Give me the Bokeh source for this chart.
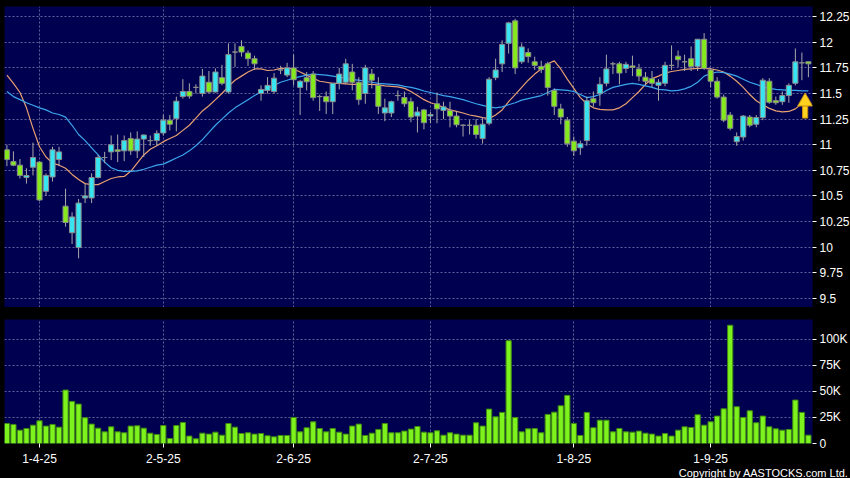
from bokeh.plotting import figure
from bokeh.models import (ColumnDataSource, Range1d, FixedTicker, Title)
from bokeh.layouts import column
from bokeh.embed import file_html
from bokeh.resources import INLINE

# ---------------- data ----------------
opens = [10.95, 10.835, 10.80, 10.68, 10.78, 10.83, 10.545, 10.685, 10.855, 10.40,
         10.14, 9.995, 10.48, 10.48, 10.68, 10.875, 10.93, 10.95, 10.94, 11.06,
         10.94, 11.055, 11.04, 11.04, 11.115, 11.24, 11.255, 11.47, 11.52, 11.56,
         11.50, 11.61, 11.515, 11.655, 11.515, 11.905, 11.96, 11.895, 11.84, 11.50,
         11.53, 11.52, 11.73, 11.68, 11.75, 11.56, 11.655, 11.69, 11.47, 11.47,
         11.42, 11.60, 11.61, 11.71, 11.61, 11.50, 11.69, 11.58, 11.31, 11.31,
         11.48, 11.46, 11.42, 11.28, 11.34, 11.28, 11.40, 11.335, 11.335, 11.28,
         11.19, 11.19, 11.19, 11.06, 11.21, 11.655, 11.79, 11.99, 12.21, 11.81,
         11.90, 11.81, 11.765, 11.79, 11.53, 11.35, 11.24, 11.035, 10.97, 11.04,
         11.45, 11.50, 11.60, 11.79, 11.79, 11.745, 11.77, 11.74, 11.66, 11.645,
         11.58, 11.60, 11.775, 11.865, 11.81, 11.84, 11.765, 12.03, 11.73, 11.62,
         11.465, 11.29, 11.03, 11.075, 11.27, 11.20, 11.265, 11.62, 11.43, 11.42,
         11.48, 11.60, 11.80, 11.81]
highs = [11.00, 10.935, 10.86, 10.77, 11.02, 10.84, 10.72, 10.98, 10.98, 10.57,
         10.34, 10.47, 10.62, 10.72, 10.90, 10.93, 11.09, 11.10, 11.09, 11.12,
         11.13, 11.10, 11.09, 11.14, 11.29, 11.29, 11.47, 11.64, 11.60, 11.59,
         11.74, 11.72, 11.745, 11.78, 11.99, 11.99, 12.02, 11.92, 11.87, 11.58,
         11.66, 11.70, 11.77, 11.80, 11.88, 11.63, 11.71, 11.72, 11.49, 11.52,
         11.60, 11.75, 11.84, 11.79, 11.66, 11.78, 11.74, 11.66, 11.45, 11.43,
         11.53, 11.52, 11.46, 11.37, 11.35, 11.32, 11.51, 11.42, 11.42, 11.33,
         11.20, 11.24, 11.25, 11.27, 11.66, 11.84, 12.02, 12.20, 12.23, 11.99,
         11.94, 11.86, 11.82, 11.81, 11.55, 11.40, 11.27, 11.08, 11.04, 11.47,
         11.52, 11.66, 11.88, 11.81, 11.81, 11.81, 11.87, 11.79, 11.71, 11.72,
         11.64, 11.81, 11.97, 11.92, 11.88, 11.96, 12.03, 12.09, 11.75, 11.66,
         11.49, 11.32, 11.12, 11.29, 11.29, 11.29, 11.65, 11.65, 11.47, 11.52,
         11.60, 11.94, 11.90, 11.81]
lows = [10.79, 10.79, 10.67, 10.62, 10.70, 10.45, 10.50, 10.64, 10.79, 10.20,
        10.03, 9.89, 10.43, 10.43, 10.67, 10.82, 10.85, 10.83, 10.84, 10.90,
        10.87, 10.88, 10.99, 10.99, 11.09, 11.14, 11.13, 11.45, 11.45, 11.50,
        11.47, 11.50, 11.51, 11.58, 11.50, 11.76, 11.86, 11.77, 11.73, 11.43,
        11.50, 11.50, 11.69, 11.66, 11.58, 11.29, 11.53, 11.43, 11.33, 11.30,
        11.30, 11.54, 11.59, 11.53, 11.39, 11.40, 11.55, 11.30, 11.23, 11.27,
        11.43, 11.37, 11.22, 11.12, 11.15, 11.21, 11.21, 11.25, 11.17, 11.17,
        11.08, 11.10, 11.06, 11.01, 11.19, 11.63, 11.71, 11.89, 11.69, 11.79,
        11.80, 11.73, 11.70, 11.48, 11.29, 11.20, 10.98, 10.89, 10.90, 10.99,
        11.37, 11.38, 11.57, 11.69, 11.59, 11.70, 11.67, 11.62, 11.58, 11.56,
        11.43, 11.57, 11.73, 11.76, 11.72, 11.72, 11.72, 11.73, 11.56, 11.45,
        11.22, 11.14, 10.99, 11.04, 11.17, 11.17, 11.24, 11.40, 11.39, 11.39,
        11.41, 11.58, 11.63, 11.66]
closes = [10.855, 10.80, 10.70, 10.70, 10.875, 10.46, 10.70, 10.95, 10.93, 10.24,
          10.295, 10.43, 10.50, 10.68, 10.875, 10.875, 11.00, 10.935, 11.04, 10.94,
          11.055, 11.095, 11.04, 11.11, 11.24, 11.20, 11.425, 11.52, 11.475, 11.56,
          11.67, 11.515, 11.71, 11.60, 11.88, 11.905, 11.905, 11.84, 11.79, 11.54,
          11.58, 11.65, 11.73, 11.75, 11.635, 11.62, 11.615, 11.46, 11.47, 11.42,
          11.60, 11.69, 11.79, 11.61, 11.44, 11.75, 11.63, 11.375, 11.36, 11.42,
          11.48, 11.40, 11.27, 11.32, 11.215, 11.295, 11.35, 11.37, 11.28, 11.195,
          11.19, 11.19, 11.10, 11.20, 11.64, 11.73, 11.98, 12.19, 11.75, 11.955,
          11.86, 11.775, 11.735, 11.56, 11.375, 11.27, 11.01, 10.94, 11.01, 11.43,
          11.41, 11.59, 11.74, 11.79, 11.70, 11.785, 11.755, 11.67, 11.62, 11.60,
          11.61, 11.775, 11.775, 11.83, 11.81, 11.765, 12.03, 11.745, 11.62, 11.465,
          11.24, 11.16, 11.08, 11.28, 11.19, 11.265, 11.63, 11.415, 11.41, 11.48,
          11.58, 11.81, 11.80, 11.79]
volumes_k = [19.2, 18.3, 12.8, 14.4, 17.6, 21.8, 16.7, 18.3, 15.7, 51.3,
             40.4, 37.8, 24.7, 18.6, 14.7, 11.2, 16.0, 11.2, 10.3, 16.7,
             17.0, 14.7, 9.9, 8.7, 17.3, 4.8, 17.3, 20.2, 7.1, 4.5,
             9.9, 9.0, 10.9, 8.0, 19.2, 15.7, 9.6, 10.3, 9.0, 9.6,
             7.4, 6.4, 7.7, 7.7, 25.0, 11.2, 15.1, 20.8, 14.4, 11.2,
             14.4, 10.9, 9.0, 16.7, 18.6, 7.7, 9.9, 13.5, 19.2, 10.3,
             10.3, 11.9, 13.8, 16.3, 10.9, 10.3, 12.2, 8.0, 10.3, 9.0,
             8.0, 8.0, 19.9, 16.7, 33.0, 25.6, 29.8, 98.7, 25.0, 11.2,
             14.1, 14.4, 10.3, 27.9, 30.1, 36.2, 46.2, 19.2, 7.7, 29.8,
             15.1, 22.4, 22.4, 11.2, 14.4, 11.2, 10.9, 11.9, 9.9, 9.0,
             7.1, 9.6, 7.1, 12.8, 16.0, 15.4, 27.6, 17.6, 20.8, 26.3,
             33.3, 113.5, 35.3, 25.0, 31.4, 19.9, 26.3, 16.0, 14.1, 12.8,
             13.5, 41.7, 29.8, 8.0]
ma_short = [11.68, 11.60, 11.51, 11.36, 11.16, 10.98, 10.88, 10.82, 10.80, 10.77,
            10.71, 10.66, 10.62, 10.61, 10.61, 10.64, 10.67, 10.685, 10.69, 10.74,
            10.82, 10.90, 10.955, 10.99, 11.03, 11.06, 11.09, 11.14, 11.19, 11.26,
            11.33, 11.38, 11.44, 11.50, 11.57, 11.63, 11.67, 11.71, 11.74, 11.74,
            11.725, 11.73, 11.745, 11.745, 11.74, 11.71, 11.68, 11.65, 11.62, 11.61,
            11.60, 11.60, 11.595, 11.59, 11.59, 11.59, 11.59, 11.585, 11.575, 11.57,
            11.565, 11.55, 11.52, 11.48, 11.44, 11.41, 11.39, 11.365, 11.34, 11.325,
            11.31, 11.29, 11.28, 11.265, 11.255, 11.29, 11.34, 11.42, 11.49, 11.56,
            11.63, 11.69, 11.74, 11.79, 11.82, 11.74, 11.64, 11.55, 11.46, 11.40,
            11.36, 11.345, 11.34, 11.34, 11.36, 11.40, 11.46, 11.52, 11.59, 11.645,
            11.67, 11.70, 11.715, 11.725, 11.735, 11.74, 11.745, 11.745, 11.74, 11.73,
            11.71, 11.67, 11.62, 11.56, 11.49, 11.43, 11.39, 11.355, 11.33, 11.32,
            11.325, 11.35, 11.40, 11.45]
ma_long = [11.52, 11.47, 11.44, 11.41, 11.385, 11.36, 11.34, 11.31, 11.295, 11.27,
           11.19, 11.10, 11.04, 10.97, 10.90, 10.83, 10.775, 10.75, 10.74, 10.74,
           10.745, 10.76, 10.78, 10.80, 10.81, 10.84, 10.87, 10.90, 10.94, 10.99,
           11.05, 11.12, 11.19, 11.25, 11.31, 11.36, 11.40, 11.44, 11.48, 11.515,
           11.55, 11.58, 11.61, 11.63, 11.65, 11.665, 11.68, 11.69, 11.685, 11.68,
           11.67, 11.66, 11.65, 11.635, 11.63, 11.62, 11.61, 11.60, 11.595, 11.59,
           11.585, 11.57, 11.56, 11.545, 11.525, 11.51, 11.495, 11.48, 11.47, 11.455,
           11.44, 11.42, 11.40, 11.385, 11.37, 11.36, 11.37, 11.39, 11.41, 11.435,
           11.45, 11.465, 11.48, 11.51, 11.54, 11.535, 11.53, 11.52, 11.49, 11.46,
           11.47, 11.49, 11.53, 11.56, 11.575, 11.59, 11.60, 11.59, 11.575, 11.56,
           11.54, 11.535, 11.525, 11.53, 11.545, 11.57, 11.61, 11.67, 11.695, 11.71,
           11.705, 11.69, 11.67, 11.64, 11.61, 11.59, 11.565, 11.55, 11.54, 11.535,
           11.53, 11.53, 11.525, 11.525]

tick_idx = [5, 24, 44, 65, 87, 108]
tick_labels = ["1-4-25", "2-5-25", "2-6-25", "2-7-25", "1-8-25", "1-9-25"]
price_ticks = [9.5, 9.75, 10.0, 10.25, 10.5, 10.75, 11.0, 11.25, 11.5, 11.75, 12.0, 12.25]
vol_ticks = [0, 25000, 50000, 75000, 100000]
vol_tick_labels = ["0", "25K", "50K", "75K", "100K"]
arrow_price_tip = 11.48
arrow_price_base = 11.26

# ---------------- styles ----------------
NAVY = "#000050"
GRID = "#62629a"
UP = "#38e4f0"
DOWN = "#84ea1c"
FLAT = "#c8c8c8"
WICK = "#a8a8a8"
FONT = "Liberation Sans"

n = len(closes)
xs = list(range(n))
body_top = [max(o, c) for o, c in zip(opens, closes)]
body_bot = [min(o, c) for o, c in zip(opens, closes)]
fill = [UP if c > o else (DOWN if c < o else FLAT) for o, c in zip(opens, closes)]
src = ColumnDataSource(dict(x=xs, o=opens, h=highs, l=lows, c=closes,
                            top=body_top, bot=body_bot, fill=fill,
                            vol=[v * 1000 for v in volumes_k],
                            mas=ma_short, mal=ma_long))

x_range = Range1d(-0.37, n - 0.37)


def style_common(fig):
    fig.background_fill_color = NAVY
    fig.border_fill_color = "black"
    fig.outline_line_color = None
    fig.min_border_left = 4
    fig.min_border_right = 38
    fig.yaxis.axis_line_color = None
    fig.yaxis.major_tick_line_color = "white"
    fig.yaxis.major_tick_out = 4
    fig.yaxis.major_tick_in = 0
    fig.yaxis.minor_tick_line_color = None
    fig.yaxis.major_label_text_color = "white"
    fig.yaxis.major_label_text_font = FONT
    fig.yaxis.major_label_text_font_size = "12px"
    fig.yaxis.major_label_standoff = 3
    fig.ygrid.grid_line_color = GRID
    fig.ygrid.grid_line_dash = "2 2"
    fig.xgrid.grid_line_color = GRID
    fig.xgrid.grid_line_dash = "2 2"


# price panel
p = figure(frame_width=808, frame_height=301, x_range=x_range,
           y_range=Range1d(9.41, 12.35), y_axis_location="right",
           output_backend="svg", toolbar_location=None, min_border_top=6,
           min_border_bottom=0)
style_common(p)
p.xaxis.visible = False
p.xaxis.ticker = FixedTicker(ticks=tick_idx)
p.xgrid.ticker = FixedTicker(ticks=tick_idx)
p.yaxis.ticker = FixedTicker(ticks=price_ticks)
p.yaxis.major_label_overrides = {t: f"{t:g}" for t in price_ticks}

p.line("x", "mas", source=src, line_color="#e8a070", line_width=1.2)
p.line("x", "mal", source=src, line_color="#3aa6ec", line_width=1.2)
p.segment(x0="x", y0="h", x1="x", y1="l", source=src, line_color=WICK, line_width=1)
p.vbar(x="x", top="top", bottom="bot", width=0.78, source=src,
       fill_color="fill", line_color="#8c8c8c", line_width=1)

# arrow marker near the last bar
ax = n - 1.5
p.vbar(x=[ax], top=[arrow_price_base + (arrow_price_tip - arrow_price_base) * 0.55],
       bottom=[arrow_price_base], width=0.8, fill_color="#ffd21f", line_color="#c89010")
p.scatter(x=[ax], y=[arrow_price_tip - (arrow_price_tip - arrow_price_base) * 0.27],
          marker="triangle", size=15, fill_color="#ffd21f", line_color="#c89010")

# volume panel
v = figure(frame_width=808, frame_height=124, x_range=x_range,
           y_range=Range1d(0, 119000), y_axis_location="right",
           output_backend="svg", toolbar_location=None, min_border_top=12,
           min_border_bottom=35)
style_common(v)
v.yaxis.ticker = FixedTicker(ticks=vol_ticks)
v.yaxis.major_label_overrides = dict(zip(vol_ticks, vol_tick_labels))
v.xaxis.ticker = FixedTicker(ticks=tick_idx)
v.xgrid.ticker = FixedTicker(ticks=tick_idx)
v.xaxis.major_label_overrides = dict(zip(tick_idx, tick_labels))
v.xaxis.axis_line_color = None
v.xaxis.major_tick_line_color = "white"
v.xaxis.major_tick_out = 4
v.xaxis.major_tick_in = 0
v.xaxis.minor_tick_line_color = None
v.xaxis.major_label_text_color = "white"
v.xaxis.major_label_text_font = FONT
v.xaxis.major_label_text_font_size = "12px"
v.xaxis.major_label_standoff = 6
v.vbar(x="x", top="vol", bottom=0, width=0.8, source=src,
       fill_color="#7df21c", line_color="#3f8a12", line_width=1)

v.add_layout(Title(text="Copyright by AASTOCKS.com Ltd.", align="right",
                   text_color="white", text_font=FONT, text_font_size="11px",
                   text_font_style="normal", offset=-36, standoff=-2), "below")

layout = column(p, v, spacing=0, styles={"background-color": "black"})

open("out.html", "w").write(file_html(layout, INLINE))
